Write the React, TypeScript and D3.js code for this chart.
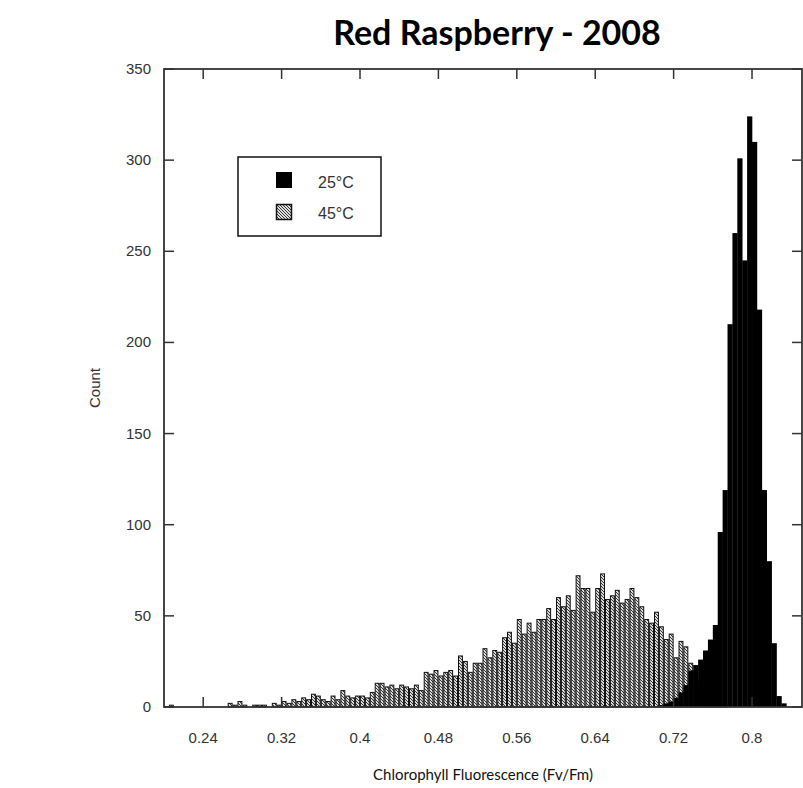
import React from "react";
import * as d3 from "d3";

const BIN_START = 0.2;
const BIN_WIDTH = 0.005;

// counts per 0.005 bin starting at 0.200
const counts45: number[] = [
  0, 1, 0, 0, 0, 0, 0, 0, 0, 0,
  0, 0, 0, 2, 1, 3, 1, 0, 1, 1,
  1, 0, 2, 1, 3, 2, 4, 3, 5, 4,
  7, 6, 4, 3, 6, 4, 9, 6, 5, 6,
  6, 5, 8, 13, 13, 11, 12, 10, 12, 11,
  10, 12, 9, 19, 18, 20, 17, 19, 20, 17,
  28, 25, 19, 24, 24, 32, 27, 31, 30, 38,
  41, 35, 48, 40, 46, 41, 48, 48, 54, 48,
  60, 55, 61, 53, 72, 65, 65, 52, 65, 73,
  59, 61, 64, 57, 59, 65, 60, 55, 48, 46,
  52, 44, 37, 40, 27, 36, 33, 24, 20, 14,
  10, 6, 4, 2, 1, 0, 0, 0, 0, 0,
  0, 0, 0, 0, 0, 0, 0, 0, 0, 0,
];

const counts25: number[] = [
  0, 0, 0, 0, 0, 0, 0, 0, 0, 0,
  0, 0, 0, 0, 0, 0, 0, 0, 0, 0,
  0, 0, 0, 0, 0, 0, 0, 0, 0, 0,
  0, 0, 0, 0, 0, 0, 0, 0, 0, 0,
  0, 0, 0, 0, 0, 0, 0, 0, 0, 0,
  0, 0, 0, 0, 0, 0, 0, 0, 0, 0,
  0, 0, 0, 0, 0, 0, 0, 0, 0, 0,
  0, 0, 0, 0, 0, 0, 0, 0, 0, 0,
  0, 0, 0, 0, 0, 0, 0, 0, 0, 0,
  0, 0, 0, 0, 0, 0, 0, 0, 0, 0,
  0, 1, 2, 3, 5, 8, 12, 20, 23, 26,
  31, 37, 45, 96, 119, 210, 260, 301, 245, 324,
  310, 218, 119, 80, 35, 6, 2, 0, 0, 0,
];

const xTicks = [0.24, 0.32, 0.4, 0.48, 0.56, 0.64, 0.72, 0.8];
const xTickLabels = ["0.24", "0.32", "0.4", "0.48", "0.56", "0.64", "0.72", "0.8"];
const yTicks = [0, 50, 100, 150, 200, 250, 300, 350];

const seriesNames = ["25°C", "45°C"];
const title = "Red Raspberry - 2008";
const xTitle = "Chlorophyll Fluorescence (Fv/Fm)";
const yTitle = "Count";

export default function App() {
  const W = 803, H = 788;
  const left = 164, right = 802, top = 69, bottom = 707;
  const x = d3.scaleLinear().domain([0.2, 0.851]).range([left, right]);
  const y = d3.scaleLinear().domain([0, 350]).range([bottom, top]);
  const tickLen = 10;
  const axisColor = "#333";
  const labelFont = "'Liberation Sans', Arial, sans-serif";

  const bar = (i: number) => {
    const x0 = x(BIN_START + i * BIN_WIDTH);
    const x1 = x(BIN_START + (i + 1) * BIN_WIDTH);
    return { x0, w: x1 - x0 };
  };

  return (
    <svg width={W} height={H} style={{ position: "absolute", left: 0, top: 0, background: "#fff" }}>
      <defs>
        <pattern id="hatch" patternUnits="userSpaceOnUse" width={3} height={3}>
          <rect width={3} height={3} fill="#ddd" />
          <path d="M-1,-1 L4,4 M2,-1 L4,1 M-1,2 L1,4" stroke="#222" strokeWidth={0.9} />
        </pattern>
      </defs>
      <rect width={W} height={H} fill="#fff" />
      <text x={497} y={45} textAnchor="middle" fontFamily="Lato, 'Open Sans', sans-serif" fontWeight="bold" fontSize={34} fill="#000">
        {title}
      </text>

      {/* 45°C bars */}
      {counts45.map((c, i) => {
        if (!c) return null;
        const b = bar(i);
        return (
          <rect key={"g" + i} x={b.x0 + 0.5} y={y(c)} width={b.w - 1} height={bottom - y(c)}
            fill="url(#hatch)" stroke="#111" strokeWidth={1} />
        );
      })}
      {/* 25°C bars */}
      {counts25.map((c, i) => {
        if (!c) return null;
        const b = bar(i);
        return (
          <rect key={"b" + i} x={b.x0} y={y(c)} width={b.w + 0.3} height={bottom - y(c)} fill="#000" />
        );
      })}

      {/* frame */}
      <rect x={left} y={top} width={right - left} height={bottom - top} fill="none" stroke={axisColor} strokeWidth={1.8} />
      {xTicks.map((t) => (
        <g key={"xt" + t}>
          <line x1={x(t)} x2={x(t)} y1={bottom} y2={bottom - tickLen} stroke={axisColor} strokeWidth={1.5} />
          <line x1={x(t)} x2={x(t)} y1={top} y2={top + tickLen} stroke={axisColor} strokeWidth={1.5} />
        </g>
      ))}
      {yTicks.map((t) => (
        <g key={"yt" + t}>
          <line x1={left} x2={left + tickLen} y1={y(t)} y2={y(t)} stroke={axisColor} strokeWidth={1.5} />
          <line x1={right} x2={right - tickLen} y1={y(t)} y2={y(t)} stroke={axisColor} strokeWidth={1.5} />
        </g>
      ))}
      {xTicks.map((t, i) => (
        <text key={"xl" + t} x={x(t)} y={743} textAnchor="middle" fontFamily={labelFont} fontSize={15} fill="#333">
          {xTickLabels[i]}
        </text>
      ))}
      {yTicks.map((t) => (
        <text key={"yl" + t} x={151} y={y(t) + 5} textAnchor="end" fontFamily={labelFont} fontSize={15} fill="#333">
          {t}
        </text>
      ))}
      <text transform={`translate(100,${(top + bottom) / 2}) rotate(-90)`} textAnchor="middle" fontFamily={labelFont} fontSize={15} fill="#333">
        {yTitle}
      </text>
      <text x={(left + right) / 2} y={780} textAnchor="middle" fontFamily="Lato, 'Open Sans', sans-serif" fontSize={15} fill="#111">
        {xTitle}
      </text>

      {/* legend */}
      <rect x={238} y={157} width={143} height={79} fill="#fff" stroke="#111" strokeWidth={1.5} />
      <rect x={276} y={172} width={16} height={16} fill="#000" />
      <rect x={276.5} y={204.5} width={15} height={15} fill="url(#hatch)" stroke="#111" strokeWidth={1.5} />
      <text x={318} y={188} fontFamily={labelFont} fontSize={16} fill="#333">{seriesNames[0]}</text>
      <text x={318} y={219} fontFamily={labelFont} fontSize={16} fill="#333">{seriesNames[1]}</text>
    </svg>
  );
}
